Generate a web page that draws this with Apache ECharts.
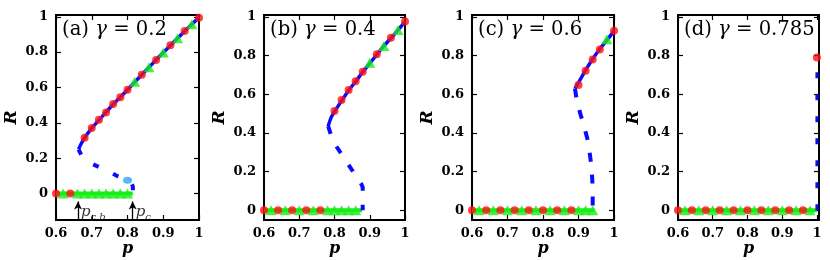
<!DOCTYPE html>
<html>
<head>
<meta charset="utf-8">
<script src="https://cdn.jsdelivr.net/npm/echarts@6/dist/echarts.min.js"></script>
<style>html,body{margin:0;padding:0;background:#fff}#c{width:830px;height:260px}</style>
</head>
<body>
<div id="c"></div>
<script>
// ---------- data ----------
const xTickVals = [0.6, 0.7, 0.8, 0.9, 1];
const yTickVals = [0, 0.2, 0.4, 0.6, 0.8, 1];
const panelLetters = ['(a)', '(b)', '(c)', '(d)'];
const gammaValues = ['0.2', '0.4', '0.6', '0.785'];

// panel (a) gamma = 0.2
const stableA = [[0.663,0.25],[0.67,0.28],[0.68,0.315],[0.70,0.37],[0.72,0.415],[0.74,0.46],[0.76,0.505],[0.78,0.545],[0.80,0.587],[0.82,0.63],[0.84,0.672],[0.86,0.714],[0.88,0.756],[0.90,0.798],[0.92,0.838],[0.94,0.878],[0.96,0.918],[0.98,0.958],[1.0,0.995]];
const unstableA = [[0.663,0.25],[0.675,0.20],[0.69,0.178],[0.72,0.15],[0.745,0.127],[0.77,0.10],[0.80,0.075],[0.81,0.06],[0.815,0.04],[0.815,0.0]];
const redUpperA = [[0.68,0.316],[0.70,0.37],[0.72,0.417],[0.74,0.458],[0.76,0.506],[0.78,0.545],[0.80,0.587],[0.84,0.672],[0.88,0.756],[0.92,0.839],[0.96,0.919],[1.0,0.995]];
const greenUpperA = [[0.82,0.632],[0.86,0.714],[0.90,0.798],[0.94,0.878],[0.98,0.958]];
const redZeroA = [[0.6,0],[0.64,0]];
const greenZeroA = [[0.62,0],[0.66,0],[0.68,0],[0.70,0],[0.72,0],[0.74,0],[0.76,0],[0.78,0],[0.80,0]];
const zeroLineA = [[0.6,0],[0.815,0]];
const cyanPointA = [[0.80,0.075]];
const pcbValue = 0.6615, pcValue = 0.8145;
const arrowR = [-0.15, -0.045];
const arrowLabelR = -0.105;

// panel (b) gamma = 0.4
const stableB = [[0.782,0.435],[0.79,0.478],[0.80,0.51],[0.82,0.566],[0.84,0.62],[0.86,0.666],[0.88,0.715],[0.90,0.76],[0.92,0.805],[0.94,0.85],[0.96,0.89],[0.98,0.932],[1.0,0.975]];
const unstableB = [[0.782,0.435],[0.79,0.39],[0.80,0.345],[0.82,0.29],[0.84,0.235],[0.86,0.18],[0.875,0.14],[0.88,0.12],[0.88,0.0]];
const redUpperB = [[0.80,0.513],[0.82,0.57],[0.84,0.622],[0.86,0.668],[0.88,0.717],[0.92,0.807],[0.96,0.893],[1.0,0.976]];
const greenUpperB = [[0.90,0.763],[0.94,0.85],[0.98,0.933]];
const redZeroB = [[0.6,0],[0.64,0],[0.68,0],[0.72,0],[0.76,0]];
const greenZeroB = [[0.62,0],[0.66,0],[0.70,0],[0.74,0],[0.78,0],[0.80,0],[0.82,0],[0.84,0],[0.86,0]];
const zeroLineB = [[0.6,0],[0.878,0]];

// panel (c) gamma = 0.6
const stableC = [[0.89,0.63],[0.90,0.66],[0.92,0.725],[0.94,0.783],[0.96,0.834],[0.98,0.88],[1.0,0.927]];
const unstableC = [[0.89,0.63],[0.895,0.57],[0.905,0.50],[0.915,0.44],[0.925,0.37],[0.932,0.29],[0.937,0.22],[0.939,0.15],[0.94,0.07],[0.94,0.0]];
const redUpperC = [[0.90,0.648],[0.92,0.722],[0.94,0.78],[0.96,0.832],[1.0,0.929]];
const greenUpperC = [[0.98,0.884]];
const redZeroC = [[0.6,0],[0.64,0],[0.68,0],[0.72,0],[0.76,0],[0.80,0],[0.84,0],[0.88,0]];
const greenZeroC = [[0.62,0],[0.66,0],[0.70,0],[0.74,0],[0.78,0],[0.82,0],[0.86,0],[0.90,0],[0.92,0],[0.94,0]];
const zeroLineC = [[0.6,0],[0.945,0]];

// panel (d) gamma = 0.785
const stableD = [];
const unstableD = [[1.0,0.0],[1.0,0.76]];
const redUpperD = [[1.0,0.79]];
const greenUpperD = [];
const redZeroD = [[0.6,0],[0.64,0],[0.68,0],[0.72,0],[0.76,0],[0.80,0],[0.84,0],[0.88,0],[0.92,0],[0.96,0]];
const greenZeroD = [[0.62,0],[0.66,0],[0.70,0],[0.74,0],[0.78,0],[0.82,0],[0.86,0],[0.90,0],[0.94,0],[0.98,0]];
const zeroLineD = [[0.6,0],[1.0,0]];

// ---------- layout / style ----------
const RED = '#ff1010', GREEN = '#18ee18', BLUE = '#0a0aff', CYAN = '#2aa6f5';
const panels = [
  {left:56, width:143, xMax:1.0, yMin:-0.15, stable:stableA, unstable:unstableA, redU:redUpperA, greenU:greenUpperA, redZ:redZeroA, greenZ:greenZeroA, zero:zeroLineA, dash:[6,16], dw:4},
  {left:264, width:141, xMax:1.0, yMin:-0.05, stable:stableB, unstable:unstableB, redU:redUpperB, greenU:greenUpperB, redZ:redZeroB, greenZ:greenZeroB, zero:zeroLineB, dash:[8,14], dw:4},
  {left:472, width:142, xMax:1.0, yMin:-0.05, stable:stableC, unstable:unstableC, redU:redUpperC, greenU:greenUpperC, redZ:redZeroC, greenZ:greenZeroC, zero:zeroLineC, dash:[9,13], dw:4},
  {left:678, width:141, xMax:1.006, yMin:-0.05, stable:stableD, unstable:unstableD, redU:redUpperD, greenU:greenUpperD, redZ:redZeroD, greenZ:greenZeroD, zero:zeroLineD, dash:[6,16], dw:3}
];
const TOP = 15, HEIGHT = 205, YMAX = 1.01;
const labelFont = {fontFamily:'DejaVu Serif', fontWeight:'bold', fontSize:13, color:'#000'};

const grid = [], xAxis = [], yAxis = [], series = [], title = [];
panels.forEach((P, i) => {
  grid.push({left:P.left, top:TOP, width:P.width, height:HEIGHT, show:true, borderColor:'#000', borderWidth:2,
    backgroundColor:'transparent', containLabel:false, outerBoundsMode:'none'});
  const tickCommon = {show:true, inside:true, length:5, lineStyle:{color:'#000', width:1.2}};
  const noLine = {show:false, onZero:false};
  xAxis.push({type:'value', gridIndex:i, min:0.6, max:P.xMax, position:'bottom',
    axisLine:noLine, splitLine:{show:false},
    axisTick:Object.assign({customValues:xTickVals}, tickCommon),
    axisLabel:Object.assign({customValues:xTickVals, margin:7}, labelFont),
    name:'p', nameLocation:'middle', nameGap:21, nameMoveOverlap:false,
    nameTextStyle:{fontFamily:'DejaVu Serif', fontStyle:'italic', fontWeight:'bold', fontSize:16, color:'#000'}});
  xAxis.push({type:'value', gridIndex:i, min:0.6, max:P.xMax, position:'top',
    axisLine:noLine, splitLine:{show:false},
    axisTick:Object.assign({customValues:xTickVals}, tickCommon), axisLabel:{show:false}});
  yAxis.push({type:'value', gridIndex:i, min:P.yMin, max:YMAX, position:'left',
    axisLine:noLine, splitLine:{show:false},
    axisTick:Object.assign({customValues:yTickVals}, tickCommon),
    axisLabel:Object.assign({customValues:yTickVals, margin:8}, labelFont),
    name:'R', nameLocation:'middle', nameGap:36, nameRotate:90, nameMoveOverlap:false,
    nameTextStyle:{fontFamily:'DejaVu Serif', fontStyle:'italic', fontWeight:'bold', fontSize:17, color:'#000'}});
  yAxis.push({type:'value', gridIndex:i, min:P.yMin, max:YMAX, position:'right',
    axisLine:noLine, splitLine:{show:false},
    axisTick:Object.assign({customValues:yTickVals}, tickCommon), axisLabel:{show:false}});
  const xi = 2*i, yi = 2*i;
  series.push({type:'line', xAxisIndex:xi, yAxisIndex:yi, data:P.zero, symbol:'none', silent:true,
    lineStyle:{color:GREEN, width:4}, z:2});
  series.push({type:'line', xAxisIndex:xi, yAxisIndex:yi, data:P.unstable, symbol:'none', silent:true,
    lineStyle:{color:BLUE, width:P.dw, type:P.dash, cap:'butt'}, z:3});
  if (P.stable.length) series.push({type:'line', xAxisIndex:xi, yAxisIndex:yi, data:P.stable, symbol:'none', smooth:0.2, silent:true,
    lineStyle:{color:BLUE, width:3.5}, z:3});
  series.push({type:'scatter', xAxisIndex:xi, yAxisIndex:yi, data:P.greenZ.concat(P.greenU), symbol:'triangle', symbolSize:[11,10], silent:true,
    itemStyle:{color:GREEN}, z:4, clip:false});
  series.push({type:'scatter', xAxisIndex:xi, yAxisIndex:yi, data:P.redZ.concat(P.redU), symbol:'circle', symbolSize:8, silent:true,
    itemStyle:{color:RED}, z:5, clip:false});
  title.push({left:P.left+6, top:20, padding:0,
    text:'{n|' + panelLetters[i] + ' }{g|γ}{n| = ' + gammaValues[i] + '}',
    textStyle:{fontWeight:'normal', rich:{
      n:{fontFamily:'DejaVu Serif', fontWeight:'normal', fontSize:19.6, color:'#000'},
      g:{fontFamily:'DejaVu Serif', fontStyle:'italic', fontWeight:'normal', fontSize:19.6, color:'#000'}}}});
});

// panel (a) extras: light-blue point and arrows
series.push({type:'scatter', xAxisIndex:0, yAxisIndex:0, data:cyanPointA, symbol:'circle', symbolSize:[9,7], silent:true,
  itemStyle:{color:CYAN}, z:4});
const subRich = {
  p:{fontFamily:'DejaVu Serif', fontStyle:'italic', fontSize:15, lineHeight:20, color:'#000'},
  s:{fontFamily:'DejaVu Serif', fontStyle:'italic', fontSize:10, lineHeight:12, verticalAlign:'bottom', color:'#000'}
};
series.push({type:'scatter', xAxisIndex:0, yAxisIndex:0, silent:true, symbolSize:0,
  data:[{value:[pcbValue, arrowLabelR], name:'{p|p}{s|c,b}'}, {value:[pcValue, arrowLabelR], name:'{p|p}{s|c}'}],
  label:{show:true, position:'right', distance:3, formatter:(d)=>d.name, rich:subRich}, z:6,
  markLine:{silent:true, symbol:['none','arrow'], symbolSize:[6,8], label:{show:false},
    lineStyle:{color:'#000', width:1.3, type:'solid'},
    data:[[{coord:[pcbValue, arrowR[0]]},{coord:[pcbValue, arrowR[1]]}],
          [{coord:[pcValue, arrowR[0]]},{coord:[pcValue, arrowR[1]]}]]}});

const chart = echarts.init(document.getElementById('c'), null, {renderer:'canvas'});
chart.setOption({animation:false, backgroundColor:'#fff', grid, xAxis, yAxis, series, title});
</script>
</body>
</html>
